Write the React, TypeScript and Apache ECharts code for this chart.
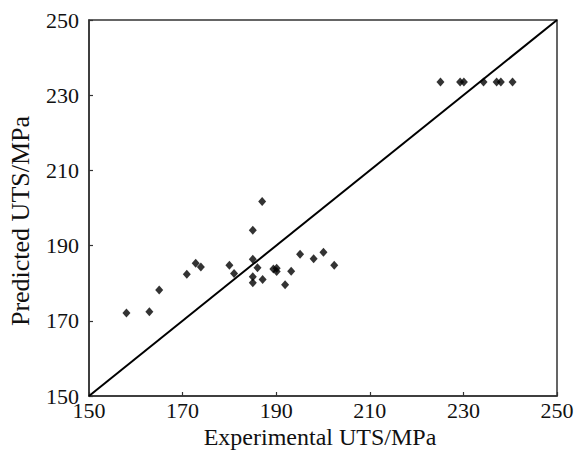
import React, { useEffect, useRef } from "react";
import * as echarts from "echarts";

const experimental: number[] = [
  158.0, 162.9, 165.0, 170.9, 172.8, 173.9, 180.0, 181.0, 185.0, 187.0,
  185.0, 186.0, 185.0, 185.0, 187.1, 189.4, 190.1, 190.1, 191.9, 193.2,
  195.1, 198.0, 200.1, 202.4,
  225.1, 229.3, 230.1, 234.3, 237.1, 238.0, 240.5,
];
const predicted: number[] = [
  172.1, 172.4, 178.2, 182.4, 185.3, 184.3, 184.8, 182.6, 194.1, 201.7,
  186.4, 184.1, 181.7, 180.1, 181.0, 183.8, 184.0, 183.1, 179.6, 183.2,
  187.7, 186.5, 188.2, 184.8,
  233.5, 233.5, 233.5, 233.5, 233.5, 233.5, 233.5,
];
const refLine: number[][] = [
  [150, 150],
  [250, 250],
];
const axisMin = 150;
const axisMax = 250;
const axisStep = 20;
const xTitle = "Experimental UTS/MPa";
const yTitle = "Predicted UTS/MPa";

export default function App() {
  const ref = useRef<HTMLDivElement>(null);
  useEffect(() => {
    if (!ref.current) return;
    const chart = echarts.init(ref.current, null, { renderer: "svg" });
    const font = "Liberation Serif";
    const axisCommon = {
      type: "value",
      min: axisMin,
      max: axisMax,
      interval: axisStep,
      splitLine: { show: false },
      axisLine: { show: true, lineStyle: { color: "#333", width: 1.5 } },
      axisTick: { show: true, inside: true, length: 4, lineStyle: { color: "#333", width: 1.2 } },
    };
    chart.setOption({
      animation: false,
      backgroundColor: "#fff",
      textStyle: { fontFamily: font },
      grid: {
        left: 89,
        right: 22,
        top: 20,
        bottom: 59,
        show: true,
        borderColor: "#333",
        borderWidth: 1.5,
        backgroundColor: "transparent",
      },
      xAxis: {
        ...axisCommon,
        axisLabel: { color: "#111", fontFamily: font, fontSize: 22, margin: 3 },
      },
      yAxis: {
        ...axisCommon,
        axisLabel: { color: "#111", fontFamily: font, fontSize: 22, margin: 10 },
      },
      graphic: [
        {
          type: "text",
          x: 320,
          y: 437,
          style: {
            text: xTitle,
            fontFamily: font,
            fontSize: 24,
            fill: "#111",
            textAlign: "center",
            textVerticalAlign: "middle",
          },
        },
        {
          type: "text",
          x: 20,
          y: 221,
          rotation: Math.PI / 2,
          style: {
            text: yTitle,
            fontFamily: font,
            fontSize: 26,
            fill: "#111",
            textAlign: "center",
            textVerticalAlign: "middle",
          },
        },
      ],
      series: [
        {
          type: "line",
          data: refLine,
          symbol: "none",
          lineStyle: { color: "#000", width: 2 },
          silent: true,
          z: 1,
        },
        {
          type: "scatter",
          data: experimental.map((x, i) => [x, predicted[i]]),
          symbol: "diamond",
          symbolSize: [8, 9],
          itemStyle: { color: "#000" },
          z: 2,
        },
      ],
    });
    return () => chart.dispose();
  }, []);
  return <div ref={ref} style={{ width: 579, height: 455, position: "absolute", left: 0, top: 0 }} />;
}
